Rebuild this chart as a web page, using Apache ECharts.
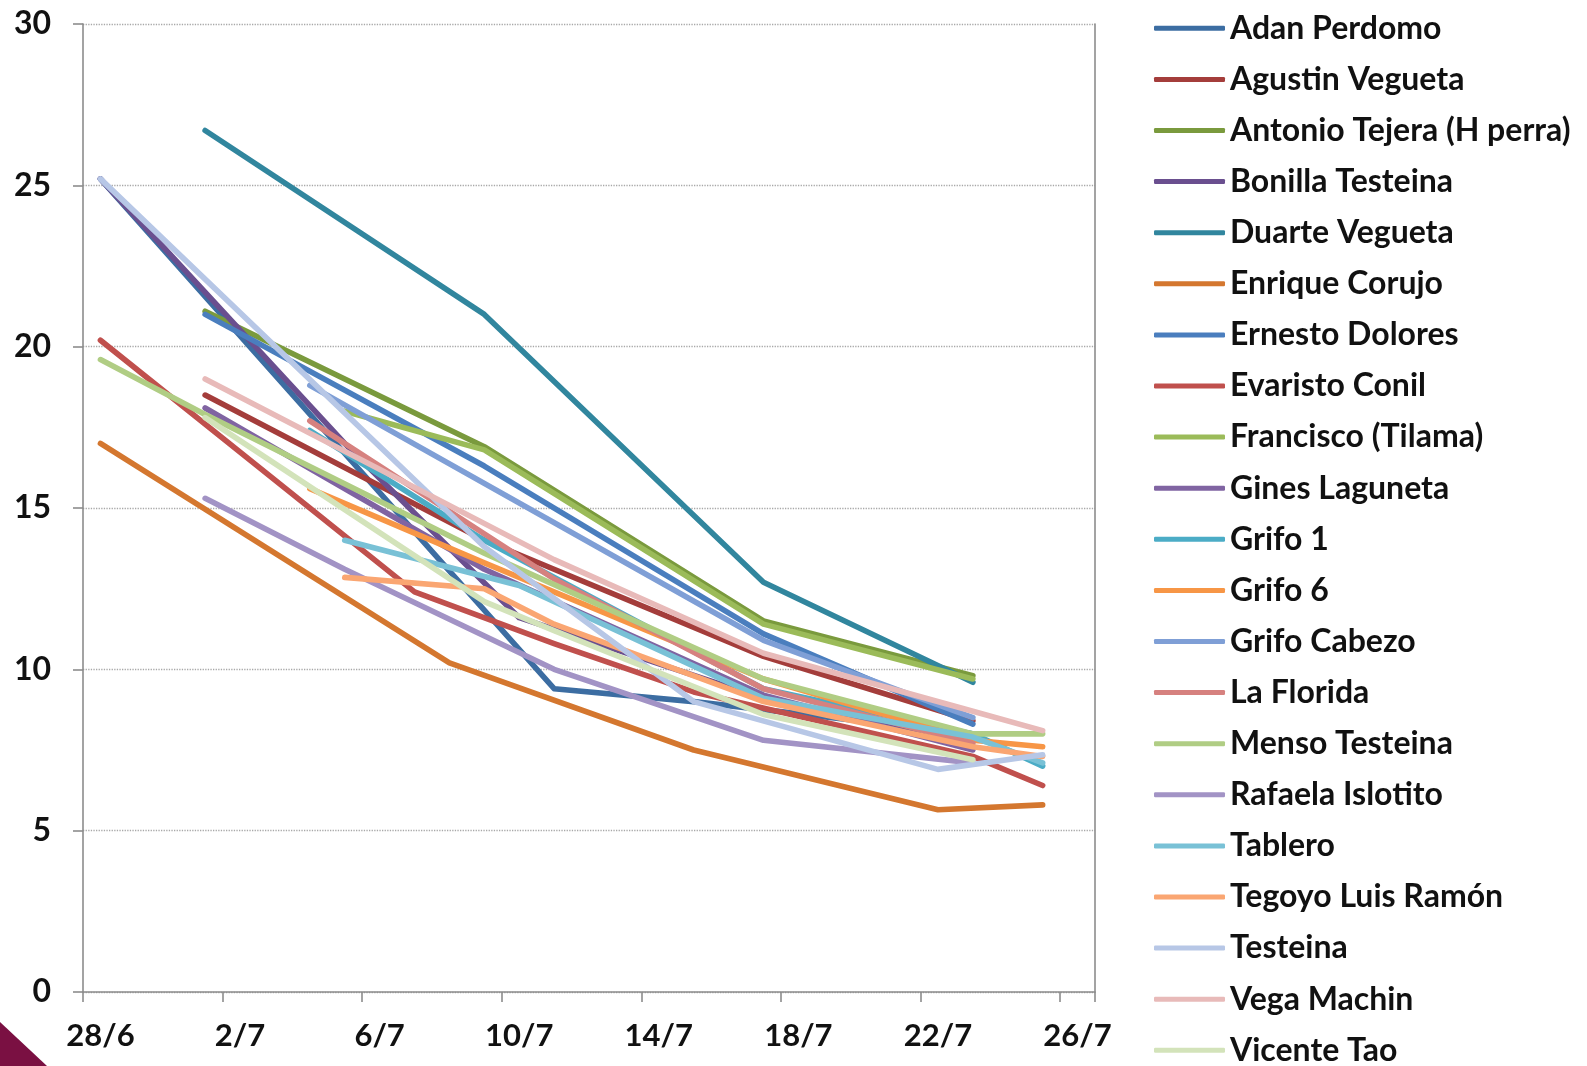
<!DOCTYPE html>
<html>
<head>
<meta charset="utf-8">
<script src="https://cdn.jsdelivr.net/npm/echarts@6/dist/echarts.min.js"></script>
<style>
  html, body { margin: 0; padding: 0; background: #fff; }
  #chart { width: 1587px; height: 1066px; }
</style>
</head>
<body>
<div id="chart"></div>
<script>
  // dias de muestreo (categorias del eje X)
  const dates = ['28/6', '29/6', '30/6', '1/7', '2/7', '3/7', '4/7', '5/7', '6/7', '7/7',
    '8/7', '9/7', '10/7', '11/7', '12/7', '13/7', '14/7', '15/7', '16/7', '17/7',
    '18/7', '19/7', '20/7', '21/7', '22/7', '23/7', '24/7', '25/7', '26/7']
  const yTicks = [0, 5, 10, 15, 20, 25, 30]

  const names = ['Adan Perdomo', 'Agustin Vegueta', 'Antonio Tejera (H perra)', 'Bonilla Testeina',
    'Duarte Vegueta', 'Enrique Corujo', 'Ernesto Dolores', 'Evaristo Conil', 'Francisco (Tilama)',
    'Gines Laguneta', 'Grifo 1', 'Grifo 6', 'Grifo Cabezo', 'La Florida', 'Menso Testeina',
    'Rafaela Islotito', 'Tablero', 'Tegoyo Luis Ramón', 'Testeina', 'Vega Machin', 'Vicente Tao']

  const colors = ['#3C6DA2', '#A43D3B', '#7A9A3D', '#6A4F8F', '#31869E', '#D4772F', '#4A7EBE',
    '#C0504D', '#9BBB59', '#8064A2', '#4BACC6', '#F79646', '#7F9FD6', '#D6817F', '#B0CD84',
    '#A293C5', '#79C1D6', '#FAA672', '#B7C7E6', '#E8BAB9', '#D3E3BA']

  const adanPerdomo = [['28/6', 25.2], ['11/7', 9.4], ['15/7', 9.0], ['23/7', 8.0]]
  const agustinVegueta = [['1/7', 18.5], ['9/7', 14.0], ['17/7', 10.4], ['23/7', 8.4]]
  const antonioTejera = [['1/7', 21.1], ['9/7', 16.9], ['17/7', 11.5], ['23/7', 9.8]]
  const bonillaTesteina = [['28/6', 25.2], ['5/7', 17.0], ['10/7', 11.6], ['17/7', 9.1], ['23/7', 7.6]]
  const duarteVegueta = [['1/7', 26.7], ['9/7', 21.0], ['17/7', 12.7], ['23/7', 9.6]]
  const enriqueCorujo = [['28/6', 17.0], ['8/7', 10.2], ['15/7', 7.5], ['22/7', 5.65], ['25/7', 5.8]]
  const ernestoDolores = [['1/7', 21.0], ['9/7', 16.3], ['17/7', 11.1], ['23/7', 8.3]]
  const evaristoConil = [['28/6', 20.2], ['7/7', 12.4], ['11/7', 10.8], ['15/7', 9.3], ['23/7', 7.3], ['25/7', 6.4]]
  const francisco = [['5/7', 18.0], ['9/7', 16.8], ['17/7', 11.4], ['23/7', 9.7]]
  const ginesLaguneta = [['1/7', 18.1], ['9/7', 13.1], ['17/7', 9.2], ['23/7', 7.5]]
  const grifo1 = [['4/7', 17.4], ['9/7', 14.0], ['17/7', 9.4], ['23/7', 8.0], ['25/7', 7.0]]
  const grifo6 = [['4/7', 15.6], ['9/7', 13.3], ['17/7', 9.7], ['23/7', 7.8], ['25/7', 7.6]]
  const grifoCabezo = [['4/7', 18.8], ['17/7', 10.9], ['23/7', 8.5]]
  const laFlorida = [['4/7', 17.7], ['11/7', 12.8], ['17/7', 9.4], ['23/7', 7.7]]
  const mensoTesteina = [['28/6', 19.6], ['1/7', 17.9], ['9/7', 13.6], ['17/7', 9.7], ['23/7', 8.0], ['25/7', 8.0]]
  const rafaelaIslotito = [['1/7', 15.3], ['5/7', 13.1], ['11/7', 10.0], ['17/7', 7.8], ['23/7', 7.1]]
  const tablero = [['5/7', 14.0], ['10/7', 12.6], ['17/7', 9.1], ['23/7', 7.9], ['25/7', 7.1]]
  const tegoyo = [['5/7', 12.85], ['9/7', 12.5], ['11/7', 11.4], ['17/7', 9.0], ['23/7', 7.6], ['25/7', 7.3]]
  const testeina = [['28/6', 25.2], ['9/7', 13.8], ['15/7', 9.0], ['22/7', 6.9], ['25/7', 7.35]]
  const vegaMachin = [['1/7', 19.0], ['11/7', 13.4], ['17/7', 10.5], ['23/7', 8.7], ['25/7', 8.1]]
  const vicenteTao = [['1/7', 17.8], ['9/7', 12.1], ['11/7', 11.2], ['17/7', 8.6], ['23/7', 7.2]]

  const seriesData = [adanPerdomo, agustinVegueta, antonioTejera, bonillaTesteina, duarteVegueta,
    enriqueCorujo, ernestoDolores, evaristoConil, francisco, ginesLaguneta, grifo1, grifo6,
    grifoCabezo, laFlorida, mensoTesteina, rafaelaIslotito, tablero, tegoyo, testeina,
    vegaMachin, vicenteTao]

  const chart = echarts.init(document.getElementById('chart'))
  const fontFamily = 'Lato, "DejaVu Sans", sans-serif'
  const axisGrey = '#8C8C8C'

  const option = {
    animation: false,
    backgroundColor: '#fff',
    color: colors,
    grid: { left: 83, right: 492, top: 24, bottom: 74 },
    legend: {
      orient: 'vertical',
      left: 1154,
      top: 12.3,
      height: 1200,
      padding: 0,
      itemGap: 19.1,
      itemWidth: 71,
      itemHeight: 5,
      icon: 'roundRect',
      textStyle: { fontFamily, fontSize: 32, fontWeight: 'bold', color: '#111' },
      data: names
    },
    xAxis: {
      type: 'category',
      data: dates,
      boundaryGap: true,
      axisLine: { lineStyle: { color: axisGrey, width: 1.6 } },
      axisTick: { show: true, interval: 3, alignWithLabel: false, length: 10, lineStyle: { color: axisGrey, width: 1.6 } },
      axisLabel: { interval: 3, margin: 28, fontFamily, fontSize: 31, fontWeight: 'bold', color: '#111' },
      splitLine: { show: false }
    },
    yAxis: [
      {
        type: 'value',
        min: yTicks[0],
        max: yTicks[yTicks.length - 1],
        interval: 5,
        axisLine: { show: true, lineStyle: { color: axisGrey, width: 1.6 } },
        axisTick: { show: true, length: 10, lineStyle: { color: axisGrey, width: 1.6 } },
        axisLabel: { margin: 32, fontFamily, fontSize: 32, fontWeight: 'bold', color: '#111' },
        splitLine: { show: true, lineStyle: { color: '#A8A8A8', type: 'dotted', width: 1.3 } }
      },
      {
        type: 'value',
        position: 'right',
        min: 0,
        max: 30,
        axisLine: { show: true, lineStyle: { color: axisGrey, width: 1.6 } },
        axisTick: { show: false },
        axisLabel: { show: false },
        splitLine: { show: false }
      }
    ],
    graphic: [
      {
        type: 'polygon',
        shape: { points: [[0, 1022], [47, 1066], [0, 1066]] },
        style: { fill: '#7A1042' }
      }
    ],
    series: names.map((name, i) => ({
      name,
      type: 'line',
      data: seriesData[i],
      symbol: 'none',
      smooth: false,
      lineStyle: { width: 5.6, cap: 'round', join: 'round' },
      emphasis: { disabled: true }
    }))
  }
  chart.setOption(option)
</script>
</body>
</html>
